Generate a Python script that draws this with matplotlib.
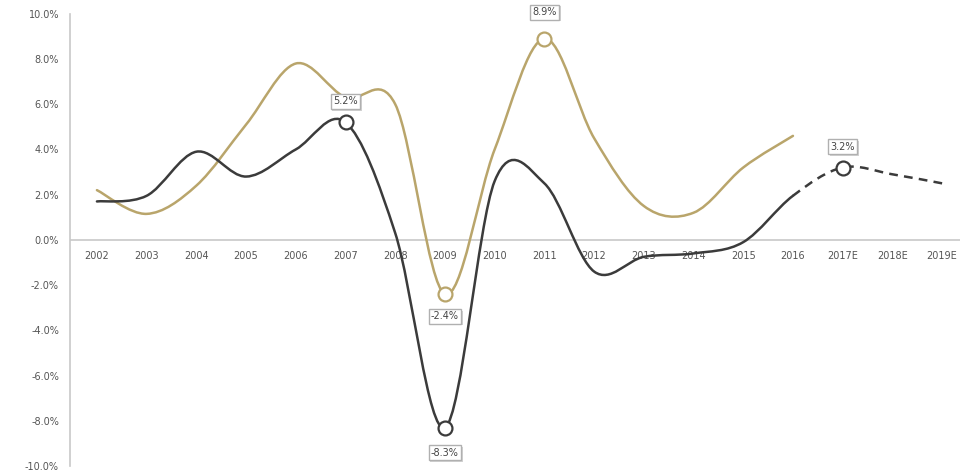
import matplotlib
matplotlib.use('Agg')

import matplotlib.pyplot as plt
import matplotlib.patheffects as pe
from matplotlib.path import Path
from matplotlib.patches import PathPatch
import numpy as np

# categories and the two growth series (in %)
years = ['2002', '2003', '2004', '2005', '2006', '2007', '2008', '2009', '2010',
         '2011', '2012', '2013', '2014', '2015', '2016', '2017E', '2018E', '2019E']
gold_vals = [2.2, 1.15, 2.4, 5.1, 7.8, 6.3, 6.0, -2.4, 4.0, 8.9, 4.5, 1.5, 1.2, 3.2, 4.6]
dark_vals = [1.7, 1.95, 3.9, 2.8, 4.0, 5.2, 0.3, -8.3, 2.6, 2.5, -1.4, -0.75, -0.6, -0.1, 1.95,
             3.2, 2.9, 2.5]
n_actual = 15  # dark series is actual up to 2016, estimates after

# points that get a marker and a boxed label: (series, index, text, above?)
callouts = [('dark', 5, '5.2%', True), ('gold', 9, '8.9%', True),
            ('gold', 7, '-2.4%', False), ('dark', 7, '-8.3%', False),
            ('dark', 15, '3.2%', True)]

GOLD = '#b9a56b'
DARK = '#3b3b3b'


def smooth_path(x, y, start, stop):
    """Excel-like smoothed line as cubic Bezier segments between start and stop index."""
    n = len(x)
    verts = [(x[start], y[start])]
    codes = [Path.MOVETO]
    for i in range(start, stop):
        i0 = max(i - 1, 0)
        i3 = min(i + 2, n - 1)
        c1 = (x[i] + (x[i + 1] - x[i0]) / 6, y[i] + (y[i + 1] - y[i0]) / 6)
        c2 = (x[i + 1] - (x[i3] - x[i]) / 6, y[i + 1] - (y[i3] - y[i]) / 6)
        verts += [c1, c2, (x[i + 1], y[i + 1])]
        codes += [Path.CURVE4] * 3
    return Path(verts, codes)


fig = plt.figure(figsize=(9.6, 4.75), dpi=100)
ax = fig.add_axes([0.073, 0.019, 0.927, 0.952])

xg = np.arange(len(gold_vals))
xd = np.arange(len(dark_vals))

ax.add_patch(PathPatch(smooth_path(xg, gold_vals, 0, len(gold_vals) - 1),
                       fill=False, edgecolor=GOLD, lw=1.8, capstyle='round', zorder=3))
ax.add_patch(PathPatch(smooth_path(xd, dark_vals, 0, n_actual - 1),
                       fill=False, edgecolor=DARK, lw=1.8, capstyle='round', zorder=3))
ax.add_patch(PathPatch(smooth_path(xd, dark_vals, n_actual - 1, len(dark_vals) - 1),
                       fill=False, edgecolor=DARK, lw=1.8, linestyle=(0, (3.5, 2.5)), zorder=3))

for series, idx, txt, above in callouts:
    vals, col = (gold_vals, GOLD) if series == 'gold' else (dark_vals, DARK)
    ax.plot(idx, vals[idx], 'o', ms=10, mfc='white', mec=col, mew=1.6, zorder=5)
    off = 15 if above else -16
    if txt == '8.9%':
        off = 19
    if txt == '-8.3%':
        off = -18
    t = ax.annotate(txt, (idx, vals[idx]), xytext=(0, off), textcoords='offset points',
                    ha='center', va='center', fontsize=7, color='#444444', zorder=6,
                    bbox=dict(boxstyle='square,pad=0.25', fc='white', ec='#b0b0b0', lw=1.0))
    t.get_bbox_patch().set_path_effects([pe.SimplePatchShadow(offset=(1.2, -1.2), alpha=0.25),
                                         pe.Normal()])

ax.set_xlim(-0.54, 17.36)
ax.set_ylim(-10, 10)
ax.set_yticks(np.arange(-10, 10.1, 2))
ax.set_yticklabels([f'{v:.1f}%' for v in np.arange(-10, 10.1, 2)])
ax.tick_params(axis='y', length=0, labelsize=7, labelcolor='#555555', pad=8)
ax.set_xticks([])

# category labels sit just below the zero line
for i, yr in enumerate(years):
    ax.text(i, -0.7, yr, ha='center', va='center', fontsize=7, color='#555555', zorder=2)

for s in ['top', 'right', 'bottom']:
    ax.spines[s].set_visible(False)
ax.spines['left'].set_color('#c8c8c8')
ax.spines['left'].set_linewidth(1.2)
ax.axhline(0, color='#c8c8c8', lw=1.2, zorder=1)

fig.savefig('out.png', dpi=100)
